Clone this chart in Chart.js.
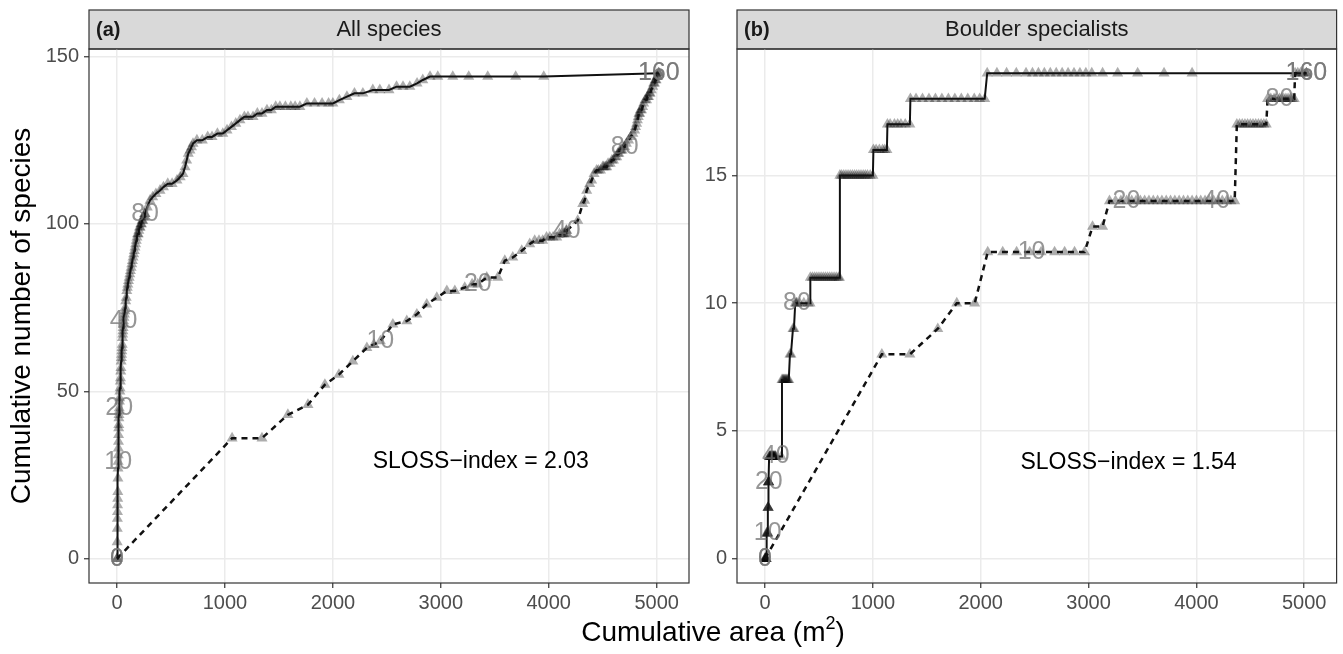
<!DOCTYPE html>
<html>
<head>
<meta charset="utf-8">
<script src="https://cdn.jsdelivr.net/npm/chart.js@4"></script>
<style>
body { margin: 0; background: #fff; width: 1343px; height: 654px; overflow: hidden; position: relative; font-family: 'Liberation Sans', Arial, sans-serif; }
#wrapA { position: absolute; left: 0; top: 0; width: 700px; height: 654px; }
#wrapB { position: absolute; left: 700px; top: 0; width: 643px; height: 654px; }
#xtitle { position: absolute; left: 413px; width: 600px; top: 616px; text-align: center; font-size: 28px; line-height: 32px; color: #000; }
#xtitle sup { font-size: 18px; vertical-align: 12px; line-height: 0; }
</style>
</head>
<body>
<div id="wrapA"><canvas id="chartA" width="700" height="654"></canvas></div>
<div id="wrapB"><canvas id="chartB" width="643" height="654"></canvas></div>
<div id="xtitle">Cumulative area (m<sup>2</sup>)</div>
<script>
// ticks
const xTicks = [0, 1000, 2000, 3000, 4000, 5000];
const yTicksA = [0, 50, 100, 150];
const yTicksB = [0, 5, 10, 15];

// (a) all species - small patches first (solid)
const aSmallX = [0,1,2,3,4,5,6,7,8,9,10, 11,12,13,14,15,16,17,18,19,20,
  22,24,26,28,30,32,34,36,38,40,42,44,46,48,50,52,54,56,58,60,
  64,68,72,76,80,85,90,95,100,106,112,118,124,130,136,142,148,154,160,166,172,178,184,190,196,202,208,214,220,226,232,238,244,250,256,260,
  280,305,330,360,398,430,470,510,555,585,611,630,645,660,676,690,704,740,790,840,
  880,930,980,1019,1060,1100,1139,1180,1213,1260,1300,1343,1389,1430,1470,1509,1560,1610,1650,1694,
  1759,1830,1900,1960,2000,2060,2130,2200,2278,2370,2435,2520,2590,2650,2713,2780,2833,2900,2972,3111,
  3259,3435,3694,3954,5020];
const aSmallY = [0,5,9,12,14,16,18,20,24,27,29, 31,33,35,37,39,40,42,43,44,45,
  47,48,50,51,53,54,56,57,59,60,61,62,63,64,66,67,68,69,70,71,
  72,73,74,75,77,78,80,81,82,83,84,85,86,87,88,89,90,91,92,93,94,95,96,97,97,98,99,99,100,100,101,101,102,102,103,103,
  105,107,108,109,110,111,112,112,113,114,115,117,119,121,122,123,124,125,125,126,
  126,127,127,128,129,130,131,132,132,132,133,133,134,134,135,135,135,135,135,135,
  136,136,136,136,136,137,138,139,139,140,140,140,141,141,141,142,143,144,144,144,
  144,144,144,144,145];

// (a) all species - large patches first (dashed)
const aLargeX = [0,1066,1343,1583,1769,1926,2056,2185,2315,2380,2440,
  2556,2685,2778,2870,2963,3056,3130,3222,3290,3343,
  3426,3528,3593,3667,3750,3824,3870,3910,3944,3980,4010,4040,4074,4100,4120,4135,4145,4155,4162,4167,
  4269,4315,4333,4352,4380,4398,4420,4444,4460,4480,4500,4510,4525,4537,4550,4570,4585,4600,4615,4630,4640,4650,4660,4670,4680,4690,4704,
  4720,4740,4760,4780,4796,4805,4815,4822,4830,4836,4843,4850,4860,4870,4880,4893,4907,4915,4925,4933,4940,4950,4963,4972,4980,4988,4995,5003,5010,5020];
const aLargeY = [0,36,36,43,46,52,55,59,63,64,65,
  70,71,73,76,78,80,80,81,82,82,
  84,84,89,90,92,94,95,95,95,96,96,96,96,97,97,97,97,97,98,98,
  101,106,107,110,112,113,115,116,116,116,117,117,117,117,118,118,119,119,120,120,121,121,122,122,122,123,123,
  124,125,126,127,128,129,130,131,132,133,133,134,134,135,136,137,137,138,138,139,139,140,141,142,142,143,143,144,144,145];

// (b) boulder specialists - small patches first (solid)
const bSmallX = [0,2,4,6,8,10,12,15,18,21,25, 26,27,28,29,30,31,32,33,34,35,
  38,41,44,47,50,53,56,59,62,65,68,71,74,77,80,84,88,92,96,100,
  150,157,165,172,180,188,196,204,212,220,231,240,259,268,280,290,296,
  320,360,400,417,420,440,460,480,500,520,540,560,580,600,620,640,660,680,690,
  694,710,730,750,770,790,810,830,850,870,890,910,930,950,975,1000,
  1005,1030,1060,1090,1110,1130,
  1135,1160,1200,1230,1260,1300,1343,
  1348,1400,1460,1520,1580,1640,1700,1760,1820,1880,1940,1990,2037,
  2060,2150,2240,2330,2420,2480,2535,2590,2645,2700,2755,2810,2865,2920,2975,3030,3130,3270,3455,3700,3960,5020];
const bSmallY = [0,0,0,0,0,0,0,1,1,1,1, 1,2,2,2,2,3,3,3,3,3,
  4,4,4,4,4,4,4,4,4,4,4,4,4,4,4,4,4,4,4,4,
  4,7,7,7,7,7,7,7,7,7,8,8,9,9,10,10,10,
  10,10,10,10,11,11,11,11,11,11,11,11,11,11,11,11,11,11,11,
  15,15,15,15,15,15,15,15,15,15,15,15,15,15,15,15,
  16,16,16,16,16,16,
  17,17,17,17,17,17,17,
  18,18,18,18,18,18,18,18,18,18,18,18,18,
  19,19,19,19,19,19,19,19,19,19,19,19,19,19,19,19,19,19,19,19,19,19];

// (b) boulder specialists - large patches first (dashed)
const bLargeX = [0,1083,1343,1602,1778,1944,2065,2204,2333,2454,2560,2685,2778,2870,2963,3037,3130,3194,3250,3300,3352,
  3400,3440,3480,3520,3560,3600,3640,3680,3720,3760,3800,3840,3880,3920,3960,4000,4040,4080,4120,4160,4200,4240,4280,4320,4355,
  4375,4400,4425,4450,4475,4500,4525,4550,4575,4600,4625,4648,
  4660,4690,4720,4750,4770,4790,4810,4830,4850,4870,4890,4907,
  4915,4940,4965,4990,5020];
const bLargeY = [0,8,8,9,10,10,12,12,12,12,12,12,12,12,12,13,13,14,14,14,14,
  14,14,14,14,14,14,14,14,14,14,14,14,14,14,14,14,14,14,14,14,14,14,14,14,14,
  17,17,17,17,17,17,17,17,17,17,17,17,
  18,18,18,18,18,18,18,18,18,18,18,18,
  19,19,19,19,19];

// number-of-patches labels
const labelText = ['0', '10', '20', '40', '80', '160'];
const aSmallLabX = [0, 10, 20, 60, 260, 5020];
const aSmallLabY = [0, 29, 45, 71, 103, 145];
const aLargeLabX = [0, 2440, 3343, 4167, 4704, 5020];
const aLargeLabY = [0, 65, 82, 98, 123, 145];
const bSmallLabX = [0, 25, 35, 100, 296, 5020];
const bSmallLabY = [0, 1, 3, 4, 10, 19];
const bLargeLabX = [0, 2472, 3352, 4185, 4770, 5020];
const bLargeLabY = [0, 12, 14, 14, 18, 19];

const FONT = "'Liberation Sans', Arial, sans-serif";
Chart.defaults.font.family = FONT;

function pts(xs, ys) { return xs.map((x, i) => ({ x: x, y: ys[i] })); }

// strip header, frame, patch labels and SLOSS text
const panelDeco = {
  id: 'panelDeco',
  beforeDraw(chart, args, o) {
    const { ctx, chartArea: a } = chart;
    ctx.save();
    ctx.fillStyle = '#D9D9D9';
    ctx.fillRect(a.left, 10, a.right - a.left, a.top - 10);
    ctx.strokeStyle = '#333';
    ctx.lineWidth = 1.2;
    ctx.strokeRect(a.left, 10, a.right - a.left, a.top - 10);
    ctx.fillStyle = '#1A1A1A';
    ctx.textBaseline = 'middle';
    ctx.textAlign = 'left';
    ctx.font = 'bold 20px ' + FONT;
    ctx.fillText(o.tag, a.left + 7, 30);
    ctx.textAlign = 'center';
    ctx.font = '22px ' + FONT;
    ctx.fillText(o.strip, (a.left + a.right) / 2, 30);
    ctx.restore();
  },
  afterDatasetsDraw(chart, args, o) {
    const { ctx, chartArea: a, scales: { x, y } } = chart;
    ctx.save();
    ctx.font = '25px ' + FONT;
    ctx.textAlign = 'center';
    ctx.textBaseline = 'middle';
    ctx.fillStyle = 'rgba(115,115,115,0.75)';
    o.labels.forEach(l => {
      l.xs.forEach((v, i) => {
        ctx.fillText(labelText[i], x.getPixelForValue(v), y.getPixelForValue(l.ys[i]));
      });
    });
    ctx.fillStyle = '#000';
    ctx.font = '23px ' + FONT;
    ctx.fillText(o.sloss, x.getPixelForValue(3370), y.getPixelForValue(o.slossY));
    ctx.strokeStyle = '#333';
    ctx.lineWidth = 1.2;
    ctx.strokeRect(a.left, a.top, a.right - a.left, a.bottom - a.top);
    ctx.restore();
  }
};

function makePanel(id, opt) {
  return new Chart(document.getElementById(id), {
    type: 'scatter',
    data: {
      datasets: [
        { data: pts(opt.smallX, opt.smallY), showLine: true, borderColor: '#111', borderWidth: 2, pointRadius: 0, order: 0 },
        { data: pts(opt.largeX, opt.largeY), showLine: true, borderColor: '#111', borderWidth: 2.5, borderDash: [6, 5], pointRadius: 0, order: 0 },
        { data: pts(opt.smallX, opt.smallY), showLine: false, pointStyle: 'triangle', pointRadius: 6.4, pointBackgroundColor: 'rgba(0,0,0,0.32)', pointBorderWidth: 0, order: 1 },
        { data: pts(opt.largeX, opt.largeY), showLine: false, pointStyle: 'triangle', pointRadius: 6.4, pointBackgroundColor: 'rgba(0,0,0,0.32)', pointBorderWidth: 0, order: 1 }
      ]
    },
    options: {
      responsive: false,
      animation: false,
      events: [],
      layout: { padding: { top: 49, right: opt.padRight, left: 0, bottom: 0 } },
      plugins: {
        legend: { display: false },
        tooltip: { enabled: false },
        panelDeco: opt.deco
      },
      scales: {
        x: {
          type: 'linear', min: -260, max: 5300,
          afterBuildTicks: s => { s.ticks = xTicks.map(v => ({ value: v })); },
          afterFit: s => { s.height = 71; },
          grid: { color: '#EBEBEB', lineWidth: 1.5, tickColor: '#333', tickWidth: 1.2, tickLength: 5 },
          border: { display: false },
          ticks: { color: '#4D4D4D', font: { size: 20 }, padding: 3, maxRotation: 0, callback: v => String(v) }
        },
        y: {
          type: 'linear', min: opt.yMin, max: opt.yMax,
          afterBuildTicks: s => { s.ticks = opt.yTicks.map(v => ({ value: v })); },
          afterFit: s => { s.width = opt.yWidth; },
          grid: { color: '#EBEBEB', lineWidth: 1.5, tickColor: '#333', tickWidth: 1.2, tickLength: 5 },
          border: { display: false },
          ticks: { color: '#4D4D4D', font: { size: 20 }, padding: 5, callback: v => String(v) },
          title: opt.yTitle
        }
      }
    },
    plugins: [panelDeco]
  });
}

makePanel('chartA', {
  smallX: aSmallX, smallY: aSmallY, largeX: aLargeX, largeY: aLargeY,
  yMin: -7.25, yMax: 152.25, yTicks: yTicksA, yWidth: 89, padRight: 11,
  yTitle: { display: true, text: 'Cumulative number of species', color: '#000', font: { size: 28 }, padding: { top: 5, bottom: 0 } },
  deco: {
    tag: '(a)', strip: 'All species',
    labels: [{ xs: aSmallLabX, ys: aSmallLabY }, { xs: aLargeLabX, ys: aLargeLabY }],
    sloss: 'SLOSS\u2212index = 2.03', slossY: 29
  }
});

makePanel('chartB', {
  smallX: bSmallX, smallY: bSmallY, largeX: bLargeX, largeY: bLargeY,
  yMin: -0.95, yMax: 19.95, yTicks: yTicksB, yWidth: 37, padRight: 6,
  yTitle: { display: false },
  deco: {
    tag: '(b)', strip: 'Boulder specialists',
    labels: [{ xs: bSmallLabX, ys: bSmallLabY }, { xs: bLargeLabX, ys: bLargeLabY }],
    sloss: 'SLOSS\u2212index = 1.54', slossY: 3.77
  }
});
</script>
</body>
</html>
